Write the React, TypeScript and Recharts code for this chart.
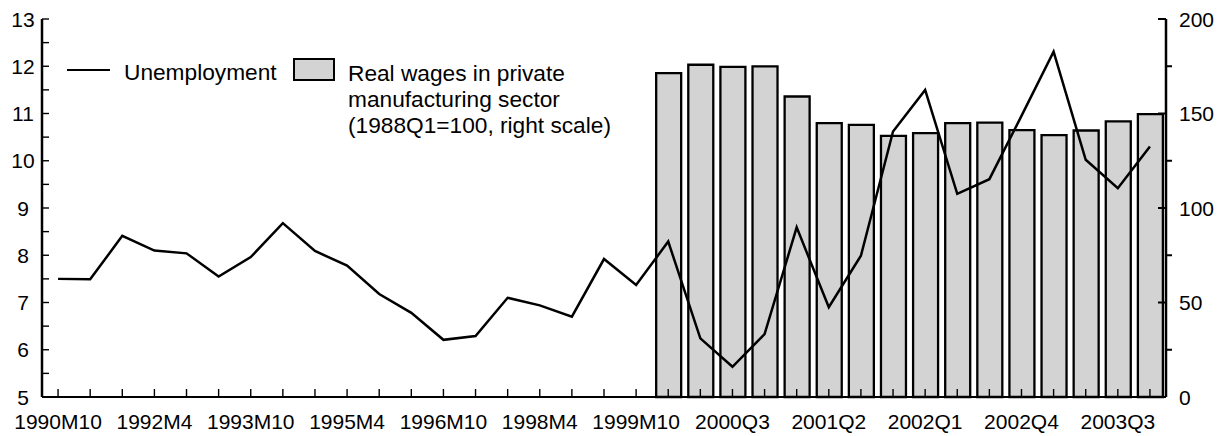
import { ComposedChart, Bar, Line, XAxis, YAxis, Legend } from 'recharts'

const FONT = '"Liberation Sans", Arial, sans-serif'

const periods = [
  '1990M10', '1991M4', '1991M10', '1992M4', '1992M10', '1993M4', '1993M10',
  '1994M4', '1994M10', '1995M4', '1995M10', '1996M4', '1996M10', '1997M4',
  '1997M10', '1998M4', '1998M10', '1999M4', '1999M10',
  '2000Q1', '2000Q2', '2000Q3', '2000Q4', '2001Q1', '2001Q2', '2001Q3', '2001Q4',
  '2002Q1', '2002Q2', '2002Q3', '2002Q4', '2003Q1', '2003Q2', '2003Q3', '2003Q4',
]

const unemployment = [
  7.5, 7.49, 8.41, 8.1, 8.04, 7.55, 7.96, 8.68, 8.09, 7.78, 7.18, 6.78, 6.21, 6.29,
  7.1, 6.94, 6.7, 7.92, 7.37, 8.29, 6.24, 5.64, 6.33, 8.59, 6.9, 7.99, 10.62, 11.5,
  9.3, 9.61, 10.95, 12.31, 10.02, 9.42, 10.3,
]

// quarterly wages only start in 2000Q1
const realWages = [
  171.4, 175.8, 174.7, 174.9, 159.0, 144.9, 144.0, 138.2,
  139.6, 144.9, 145.2, 141.2, 138.6, 141.0, 145.8, 149.7,
]

const leftTicks = [5, 5.5, 6, 6.5, 7, 7.5, 8, 8.5, 9, 9.5, 10, 10.5, 11, 11.5, 12, 12.5, 13]
const rightTicks = [0, 25, 50, 75, 100, 125, 150, 175, 200]
const labelEvery = 3

const wageOffset = periods.length - realWages.length
const data = periods.map((period, i) => ({
  period,
  unemployment: unemployment[i],
  wages: i >= wageOffset ? realWages[i - wageOffset] : null,
}))

const LeftTick = ({ x, y, payload }: any) => {
  const v = payload.value
  return (
    <g>
      <line x1={x} x2={x + 7} y1={y} y2={y} stroke="#000" strokeWidth={1.4} />
      {Number.isInteger(v) && (
        <text x={x - 19} y={y} textAnchor="middle" dominantBaseline="central" fontSize={21} fontFamily={FONT} fill="#000">
          {v}
        </text>
      )}
    </g>
  )
}

const RightTick = ({ x, y, payload }: any) => {
  const v = payload.value
  const major = v % 50 === 0
  return (
    <g>
      <line x1={x} x2={major ? x - 8 : x + 6} y1={y} y2={y} stroke="#000" strokeWidth={2} />
      {major && (
        <text x={x + 13} y={y} textAnchor="start" dominantBaseline="central" fontSize={21} fontFamily={FONT} fill="#000">
          {v}
        </text>
      )}
    </g>
  )
}

const BottomTick = ({ x, y, payload, index }: any) => (
  <g>
    <line x1={x} x2={x} y1={y} y2={y - 8} stroke="#000" strokeWidth={1.4} />
    {index % labelEvery === 0 && (
      <text x={x} y={y + 32} textAnchor="middle" fontSize={21} fontFamily={FONT} fill="#000">
        {payload.value}
      </text>
    )}
  </g>
)

const LegendContent = () => (
  <div style={{ position: 'relative', width: 800, height: 150, fontFamily: FONT, color: '#000' }}>
    <div style={{ position: 'absolute', left: 67, top: 69, width: 43, borderTop: '2.5px solid #000' }} />
    <div style={{ position: 'absolute', left: 124, top: 59, fontSize: 22.7, lineHeight: '26px', whiteSpace: 'nowrap' }}>
      Unemployment
    </div>
    <div
      style={{
        position: 'absolute', left: 293, top: 58, width: 38, height: 19,
        background: '#d3d3d3', border: '2px solid #000',
      }}
    />
    <div style={{ position: 'absolute', left: 348, top: 59.5, fontSize: 22.7, lineHeight: '26.4px', whiteSpace: 'nowrap' }}>
      Real wages in private
      <br />
      manufacturing sector
      <br />
      (1988Q1=100, right scale)
    </div>
  </div>
)

export default function App() {
  return (
    <div style={{ position: 'absolute', left: 0, top: 0, background: '#fff' }}>
      <ComposedChart
        width={1226}
        height={436}
        data={data}
        margin={{ top: 19, right: 0, bottom: 0, left: 0 }}
        barCategoryGap={0}
        style={{ fontFamily: FONT }}
      >
        <XAxis
          dataKey="period"
          interval={0}
          height={39}
          tickSize={0}
          tickMargin={0}
          tickLine={false}
          axisLine={{ stroke: '#000', strokeWidth: 2.2 }}
          tick={<BottomTick />}
        />
        <YAxis
          yAxisId="left"
          domain={[5, 13]}
          ticks={leftTicks}
          interval={0}
          width={42}
          tickSize={0}
          tickMargin={0}
          tickLine={false}
          axisLine={{ stroke: '#000', strokeWidth: 2.5 }}
          tick={<LeftTick />}
        />
        <YAxis
          yAxisId="right"
          orientation="right"
          domain={[0, 200]}
          ticks={rightTicks}
          interval={0}
          width={60}
          tickSize={0}
          tickMargin={0}
          tickLine={false}
          axisLine={{ stroke: '#000', strokeWidth: 2.5 }}
          tick={<RightTick />}
        />
        <Legend
          layout="horizontal"
          verticalAlign="middle"
          align="center"
          content={<LegendContent />}
          wrapperStyle={{ left: 0, top: 0, width: 800, height: 150 }}
        />
        <Bar
          yAxisId="right"
          dataKey="wages"
          barSize={25}
          fill="#d3d3d3"
          stroke="#000"
          strokeWidth={2.3}
          isAnimationActive={false}
        />
        <Line
          yAxisId="left"
          type="linear"
          dataKey="unemployment"
          stroke="#000"
          strokeWidth={2.5}
          dot={false}
          activeDot={false}
          isAnimationActive={false}
        />
      </ComposedChart>
    </div>
  )
}
